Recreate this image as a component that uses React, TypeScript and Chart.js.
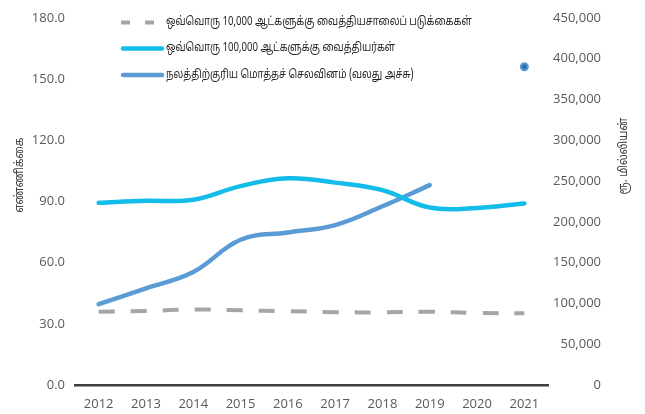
import React, { useEffect, useRef } from "react";
import { Chart, registerables } from "chart.js";

Chart.register(...registerables);

const years = ["2012", "2013", "2014", "2015", "2016", "2017", "2018", "2019", "2020", "2021"];
const bedsPer10k = [35.9, 36.3, 37.0, 36.6, 36.2, 35.7, 35.6, 35.9, 35.3, 35.2];
const doctorsPer100k = [89.3, 90.3, 90.8, 97.5, 101.3, 99.2, 95.5, 87.0, 86.8, 89.0];
const healthExpenditure = [99000, 118500, 138500, 178000, 187000, 196000, 219000, 245000, null, 390000];

const leftTicks = [0, 30, 60, 90, 120, 150, 180];
const rightTicks = [0, 50000, 100000, 150000, 200000, 250000, 300000, 350000, 400000, 450000];

const labelBeds = "ஒவ்வொரு 10,000 ஆட்களுக்கு வைத்தியசாலைப் படுக்கைகள்";
const labelDoctors = "ஒவ்வொரு 100,000 ஆட்களுக்கு வைத்தியர்கள்";
const labelExp = "நலத்திற்குரிய மொத்தச் செலவினம் (வலது அச்சு)";
const leftTitle = "எண்ணிக்கை";
const rightTitle = "ரூ. மில்லியன்";

const GRAY = "#A5A5A5";
const CYAN = "#13BCE9";
const BLUE = "#5B9BD5";
const TICK_FONT = "'Open Sans', 'DejaVu Sans', sans-serif";
const TAMIL_FONT = "'Noto Sans Tamil', 'Latha', 'Noto Sans', sans-serif";

const titlePlugin = {
  id: "axisTitles",
  afterDraw(chart: any) {
    const ctx = chart.ctx;
    const draw = (text: string, x: number, y: number) => {
      ctx.save();
      ctx.fillStyle = "#404040";
      ctx.font = `12px ${TAMIL_FONT}`;
      ctx.textAlign = "center";
      ctx.textBaseline = "middle";
      ctx.translate(x, y);
      ctx.rotate(-Math.PI / 2);
      ctx.scale(0.88, 1);
      ctx.fillText(text, 0, 0);
      ctx.restore();
    };
    draw(leftTitle, 21, 175);
    draw(rightTitle, 625, 156);
  },
};

export default function App() {
  const ref = useRef<HTMLCanvasElement | null>(null);

  useEffect(() => {
    document.body.style.margin = "0";
    const canvas = ref.current;
    if (!canvas) return;
    const chart = new Chart(canvas, {
      type: "line",
      data: {
        labels: years,
        datasets: [
          {
            label: labelBeds,
            data: bedsPer10k,
            yAxisID: "y",
            borderColor: GRAY,
            backgroundColor: GRAY,
            borderWidth: 4,
            borderDash: [16, 16],
            pointRadius: 0,
            tension: 0.4,
          },
          {
            label: labelDoctors,
            data: doctorsPer100k,
            yAxisID: "y",
            borderColor: CYAN,
            backgroundColor: CYAN,
            borderWidth: 4.5,
            pointRadius: 0,
            tension: 0.4,
            borderCapStyle: "round",
          },
          {
            label: labelExp,
            data: healthExpenditure,
            yAxisID: "y1",
            borderColor: BLUE,
            backgroundColor: "#2F6FAE",
            borderWidth: 4.5,
            pointRadius: healthExpenditure.map((_, i) => (i === healthExpenditure.length - 1 ? 3.5 : 0)),
            pointBorderColor: BLUE,
            pointBorderWidth: 2,
            tension: 0.4,
            spanGaps: false,
            borderCapStyle: "round",
          },
        ],
      },
      options: {
        responsive: false,
        animation: false,
        layout: { padding: { top: 12, left: 0, right: 44, bottom: 0 } },
        plugins: {
          legend: { display: false },
          tooltip: { enabled: false },
        },
        scales: {
          x: {
            offset: true,
            grid: { display: false, drawTicks: false },
            border: { display: true, color: "#3F3F3F", width: 2.5 },
            ticks: {
              color: "#595959",
              font: { family: TICK_FONT, size: 13 },
              padding: 11,
              maxRotation: 0,
            },
            afterFit(scale: any) {
              scale.height = 29;
            },
          },
          y: {
            position: "left",
            min: 0,
            max: 180,
            grid: { display: false, drawTicks: false },
            border: { display: false },
            afterBuildTicks(scale: any) {
              scale.ticks = leftTicks.map((v) => ({ value: v }));
            },
            ticks: {
              color: "#595959",
              font: { family: TICK_FONT, size: 13 },
              padding: 10,
              callback: (v: any) => Number(v).toFixed(1),
            },
            afterFit(scale: any) {
              scale.width = 75;
            },
          },
          y1: {
            position: "right",
            min: 0,
            max: 450000,
            grid: { display: false, drawTicks: false },
            border: { display: false },
            afterBuildTicks(scale: any) {
              scale.ticks = rightTicks.map((v) => ({ value: v }));
            },
            ticks: {
              color: "#595959",
              font: { family: TICK_FONT, size: 13 },
              padding: 5,
              crossAlign: "far",
              callback: (v: any) => Number(v).toLocaleString("en-US"),
            },
            afterFit(scale: any) {
              scale.width = 53;
            },
          },
        },
      },
      plugins: [titlePlugin],
    } as any);
    return () => chart.destroy();
  }, []);

  const legendText: React.CSSProperties = {
    position: "absolute",
    left: 166,
    fontFamily: TAMIL_FONT,
    fontSize: 12,
    color: "#262626",
    whiteSpace: "nowrap",
    lineHeight: "14px",
    transform: "scaleX(0.8)",
    transformOrigin: "0 50%",
  };

  return (
    <div style={{ position: "relative", width: 645, height: 414 }}>
      <canvas ref={ref} width={645} height={414} style={{ display: "block", width: 645, height: 414 }} />
      <svg
        width={645}
        height={414}
        style={{ position: "absolute", left: 0, top: 0, pointerEvents: "none" }}
      >
        <line x1={121} y1={22.5} x2={156} y2={22.5} stroke={GRAY} strokeWidth={4} strokeDasharray="9 15" />
        <line x1={123} y1={48.5} x2={162} y2={48.5} stroke={CYAN} strokeWidth={4.5} strokeLinecap="round" />
        <line x1={123} y1={75} x2={162} y2={75} stroke={BLUE} strokeWidth={4.5} strokeLinecap="round" />
      </svg>
      <div style={{ ...legendText, top: 15 }}>{labelBeds}</div>
      <div style={{ ...legendText, top: 41 }}>{labelDoctors}</div>
      <div style={{ ...legendText, top: 68 }}>{labelExp}</div>
    </div>
  );
}
